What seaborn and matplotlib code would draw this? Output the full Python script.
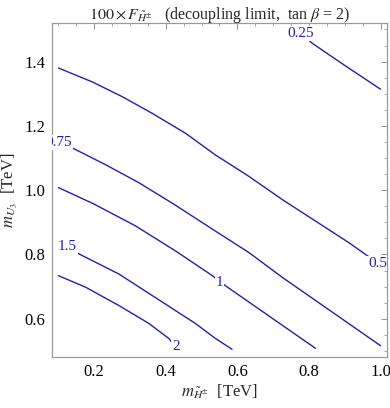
import matplotlib
matplotlib.use("Agg")
import matplotlib.pyplot as plt
import seaborn as sns
import pandas as pd
from matplotlib.ticker import MultipleLocator

# contour levels and their traced (x, y) points
levels = ["0.25", "0.5", "0.75", "1", "1.5", "2"]
x_025 = [0.765, 0.809, 0.90, 1.0]
y_025 = [1.50, 1.457, 1.388, 1.314]
x_05 = [0.1, 0.194, 0.278, 0.362, 0.455, 0.538, 0.632, 0.725, 0.818, 0.911, 0.963, 1.0]
y_05 = [1.380, 1.337, 1.291, 1.239, 1.177, 1.110, 1.043, 0.971, 0.904, 0.837, 0.796, 0.770]
x_075 = [0.1, 0.143, 0.232, 0.325, 0.423, 0.538, 0.632, 0.725, 0.818, 0.911, 1.0]
y_075 = [1.150, 1.129, 1.079, 1.023, 0.956, 0.873, 0.806, 0.729, 0.657, 0.585, 0.516]
x_1 = [0.1, 0.199, 0.315, 0.427, 0.530, 0.566, 0.632, 0.725, 0.818]
y_1 = [1.008, 0.957, 0.889, 0.811, 0.734, 0.703, 0.652, 0.580, 0.508]
x_15 = [0.1, 0.155, 0.269, 0.390, 0.483, 0.538, 0.585]
y_15 = [0.832, 0.803, 0.739, 0.652, 0.585, 0.539, 0.505]
x_2 = [0.1, 0.176, 0.269, 0.353, 0.409, 0.430]
y_2 = [0.734, 0.698, 0.641, 0.585, 0.538, 0.508]

# where each inline label sits
lab_x = [0.778, 0.993, 0.100, 0.550, 0.124, 0.428]
lab_y = [1.487, 0.772, 1.148, 0.714, 0.824, 0.515]

xs = [x_025, x_05, x_075, x_1, x_15, x_2]
ys = [y_025, y_05, y_075, y_1, y_15, y_2]
frames = []
for lev, xx, yy in zip(levels, xs, ys):
    frames.append(pd.DataFrame({"m_H": xx, "m_U": yy, "level": lev}))
df = pd.concat(frames, ignore_index=True)

sns.set_style("white")
plt.rcParams["font.family"] = ["Liberation Serif", "DejaVu Serif"]
plt.rcParams["mathtext.fontset"] = "stix"

blue = "#2020b8"
grey = "#9a9a9a"

fig = plt.figure(figsize=(3.9, 4.08), dpi=100)
ax = fig.add_axes([0.1333, 0.1243, 0.8590, 0.8193])

sns.lineplot(data=df, x="m_H", y="m_U", units="level", estimator=None, sort=False,
             color=blue, linewidth=1.0, ax=ax)

for lev, lx, ly in zip(levels, lab_x, lab_y):
    ax.text(lx, ly, lev, color=blue, fontsize=11, ha="center", va="center",
            bbox=dict(facecolor="white", edgecolor="none", pad=0.8), clip_on=True, zorder=5)

ax.set_xlim(0.082, 1.018)
ax.set_ylim(0.48, 1.52)
ax.xaxis.set_major_locator(MultipleLocator(0.2))
ax.xaxis.set_minor_locator(MultipleLocator(0.05))
ax.yaxis.set_major_locator(MultipleLocator(0.2))
ax.yaxis.set_minor_locator(MultipleLocator(0.05))
ax.set_xticks([0.2, 0.4, 0.6, 0.8, 1.0])
ax.set_xticklabels(["0.2", "0.4", "0.6", "0.8", "1.0"])
ax.set_yticks([0.6, 0.8, 1.0, 1.2, 1.4])
ax.set_yticklabels(["0.6", "0.8", "1.0", "1.2", "1.4"])
ax.tick_params(which="both", direction="in", top=True, right=True, color=grey,
               labelsize=12, labelcolor="black")
ax.tick_params(which="major", length=4, width=0.8, pad=5)
ax.tick_params(which="minor", length=2.2, width=0.6)
for s in ax.spines.values():
    s.set_color(grey)
    s.set_linewidth(0.9)

ax.set_xlabel(r"$m_{\tilde{H}^{\pm}}$  [TeV]", fontsize=12)
ax.xaxis.set_label_coords(0.5, -0.075)
ax.set_ylabel(r"$m_{U_3}$  [TeV]", fontsize=12)
ax.yaxis.set_label_coords(-0.095, 0.5)
ax.set_title(r"$100\times F_{\tilde{H}^{\pm}}$   (decoupling limit,  tan $\beta$ = 2)",
             fontsize=11.5, pad=3)

fig.savefig("out.png", dpi=100)
